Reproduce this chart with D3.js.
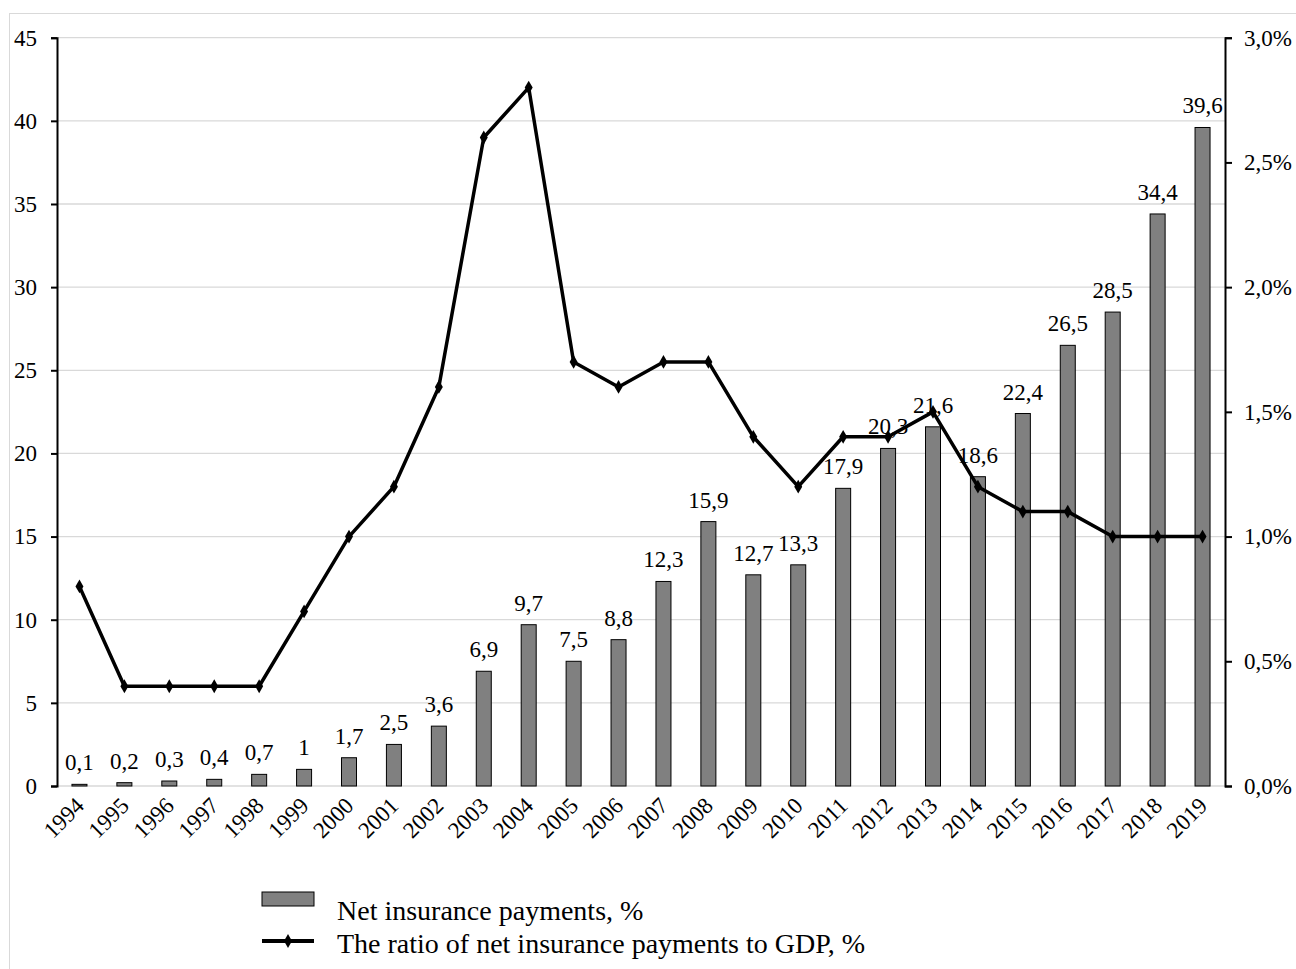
<!DOCTYPE html>
<html>
<head>
<meta charset="utf-8">
<script src="https://cdn.jsdelivr.net/npm/d3@7"></script>
<style>
  body { margin: 0; background: #fff; }
  text { font-family: "Liberation Serif", "Times New Roman", serif; fill: #000; }
</style>
</head>
<body>
<div id="chart-area"></div>
<script>
// data
let years = ["1994","1995","1996","1997","1998","1999","2000","2001","2002","2003","2004","2005","2006",
  "2007","2008","2009","2010","2011","2012","2013","2014","2015","2016","2017","2018","2019"];
let payments = [0.1,0.2,0.3,0.4,0.7,1,1.7,2.5,3.6,6.9,9.7,7.5,8.8,12.3,15.9,12.7,13.3,17.9,20.3,21.6,18.6,22.4,26.5,28.5,34.4,39.6];
let ratioGdp = [0.8,0.4,0.4,0.4,0.4,0.7,1.0,1.2,1.6,2.6,2.8,1.7,1.6,1.7,1.7,1.4,1.2,1.4,1.4,1.5,1.2,1.1,1.1,1.0,1.0,1.0];
let leftTicks = [0,5,10,15,20,25,30,35,40,45];
let rightTicks = [0,0.5,1.0,1.5,2.0,2.5,3.0];
let legendLabels = ["Net insurance payments, %", "The ratio of net insurance payments to GDP, %"];

let W = 1296, H = 969;
let margin = {top: 37.7, left: 57, right: W - 1225, bottom: H - 786};
let fontSize = 23;

let svg = d3.select("#chart-area").append("svg")
  .attr("width", W).attr("height", H);

// outer frame
svg.append("rect")
  .attr("x", 9.5).attr("y", 13.5)
  .attr("width", W).attr("height", H)
  .attr("fill", "none").attr("stroke", "#d9d9d9").attr("stroke-width", 1);

let x = d3.scaleBand().domain(years)
  .range([margin.left, W - margin.right]);
let yL = d3.scaleLinear().domain([0, 45]).range([H - margin.bottom, margin.top]);
let yR = d3.scaleLinear().domain([0, 3]).range([H - margin.bottom, margin.top]);

let comma = d => String(d).replace(".", ",");
let pct = d => d3.format(".1f")(d).replace(".", ",") + "%";

// gridlines
svg.append("g").selectAll("line")
  .data(leftTicks)
  .join("line")
  .attr("x1", margin.left).attr("x2", W - margin.right)
  .attr("y1", d => yL(d)).attr("y2", d => yL(d))
  .attr("stroke", "#d9d9d9").attr("stroke-width", 1.3);

// bars
let barW = 15;
svg.append("g").selectAll("rect")
  .data(payments)
  .join("rect")
  .attr("x", (d, i) => x(years[i]) + x.bandwidth() / 2 - barW / 2)
  .attr("y", d => yL(d))
  .attr("width", barW)
  .attr("height", d => yL(0) - yL(d))
  .attr("fill", "#808080").attr("stroke", "#000").attr("stroke-width", 1);

// bar labels
svg.append("g").selectAll("text")
  .data(payments)
  .join("text")
  .attr("x", (d, i) => x(years[i]) + x.bandwidth() / 2)
  .attr("y", d => yL(d) - 14)
  .attr("text-anchor", "middle")
  .style("font-size", fontSize + "px")
  .text(d => comma(d));

// line
let line = d3.line()
  .x((d, i) => x(years[i]) + x.bandwidth() / 2)
  .y(d => yR(d));

svg.append("path")
  .datum(ratioGdp)
  .attr("d", line)
  .attr("fill", "none").attr("stroke", "#000").attr("stroke-width", 3.5)
  .attr("stroke-linejoin", "round");

let diamond = d3.symbol().type(d3.symbolDiamond).size(55);
svg.append("g").selectAll("path")
  .data(ratioGdp)
  .join("path")
  .attr("d", diamond)
  .attr("transform", (d, i) => "translate(" + (x(years[i]) + x.bandwidth() / 2) + "," + yR(d) + ")")
  .attr("fill", "#000");

// axes
let leftAxis = svg.append("g")
  .attr("transform", "translate(" + margin.left + ",0)")
  .call(d3.axisLeft(yL).tickValues(leftTicks).tickSize(6).tickPadding(14));
let rightAxis = svg.append("g")
  .attr("transform", "translate(" + (W - margin.right) + ",0)")
  .call(d3.axisRight(yR).tickValues(rightTicks).tickFormat(pct).tickSize(7).tickPadding(12));
let bottomAxis = svg.append("g")
  .attr("transform", "translate(0," + yL(0) + ")")
  .call(d3.axisBottom(x).tickSize(0));

[leftAxis, rightAxis].forEach(g => {
  g.attr("font-size", null).attr("font-family", null);
  g.select(".domain").attr("stroke", "#000").attr("stroke-width", 2);
  g.selectAll(".tick line").attr("stroke", "#000").attr("stroke-width", 2);
  g.selectAll("text").style("font-size", fontSize + "px").attr("fill", "#000");
});
bottomAxis.attr("font-size", null).attr("font-family", null);
bottomAxis.select(".domain").remove();
bottomAxis.selectAll("text")
  .style("font-size", "23px").attr("fill", "#000")
  .attr("text-anchor", "end")
  .attr("x", 6).attr("y", 21).attr("dy", 0)
  .attr("transform", "rotate(-45, 6, 21)");

// legend
let legend = svg.append("g");
legend.append("rect")
  .attr("x", 262).attr("y", 892).attr("width", 52).attr("height", 14)
  .attr("fill", "#808080").attr("stroke", "#000").attr("stroke-width", 1);
legend.append("line")
  .attr("x1", 262).attr("x2", 314).attr("y1", 941).attr("y2", 941)
  .attr("stroke", "#000").attr("stroke-width", 4);
legend.append("path")
  .attr("d", diamond)
  .attr("transform", "translate(288,941)");
legend.selectAll("text")
  .data(legendLabels)
  .join("text")
  .attr("x", 337)
  .attr("y", (d, i) => 920 + i * 33)
  .style("font-size", "28px")
  .text(d => d);
</script>
</body>
</html>
